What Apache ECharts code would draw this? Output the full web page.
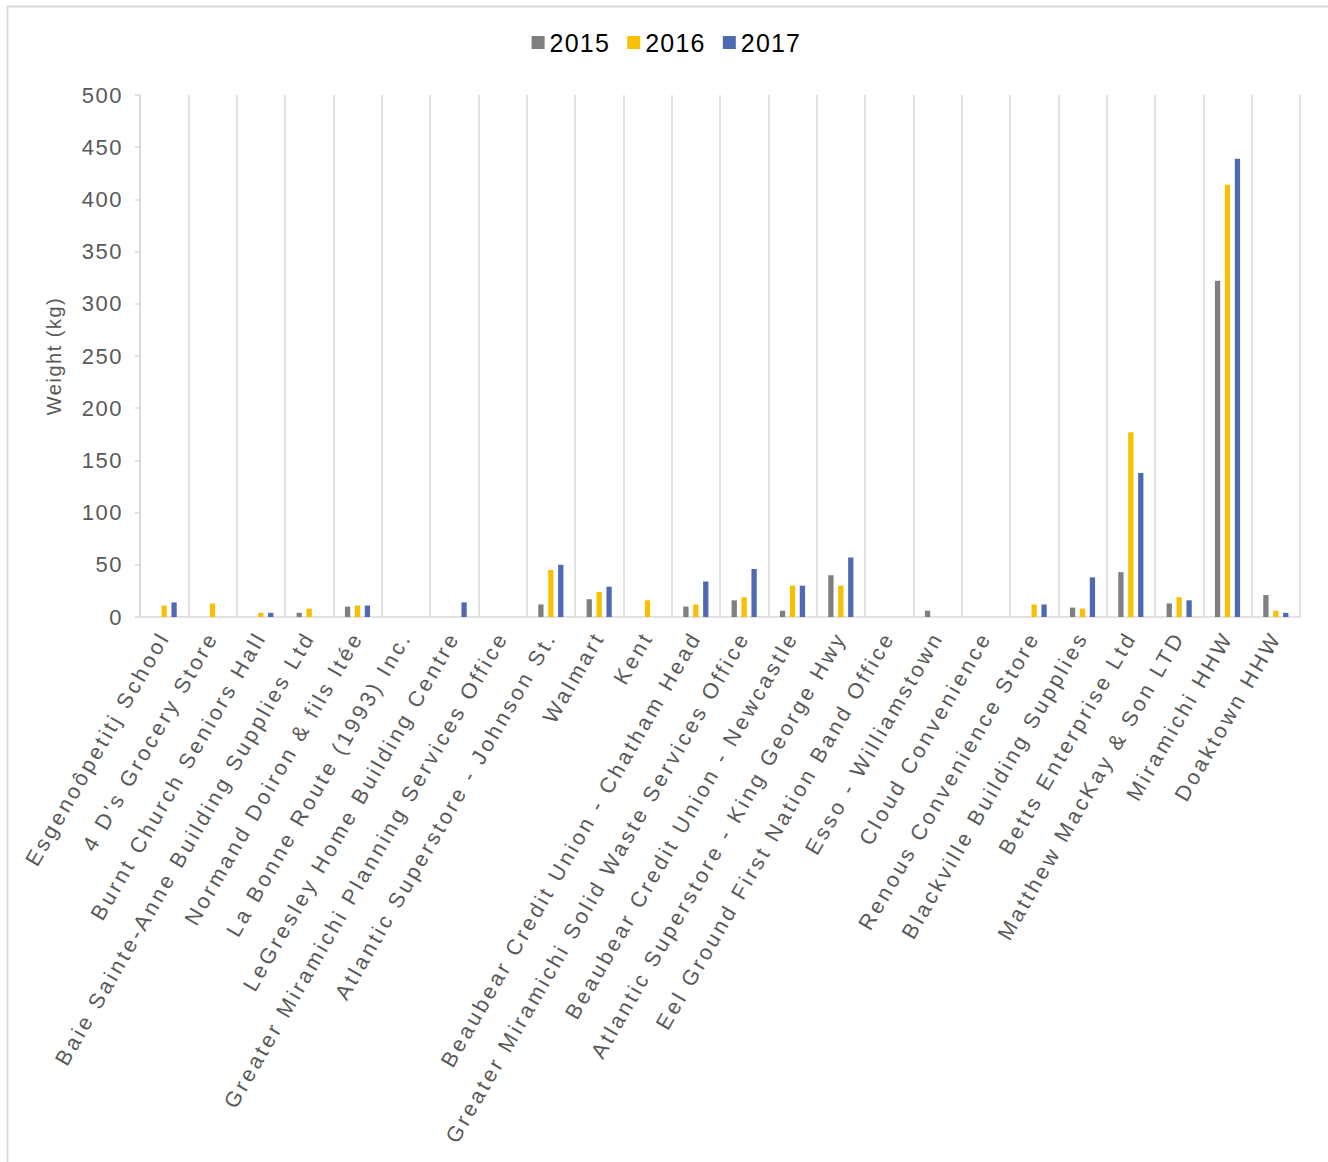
<!DOCTYPE html>
<html>
<head>
<meta charset="utf-8">
<script src="https://cdn.jsdelivr.net/npm/echarts@6/dist/echarts.min.js"></script>
<style>
html,body{margin:0;padding:0;background:#fff;}
#chart{width:1328px;height:1162px;}
</style>
</head>
<body>
<div id="chart"></div>
<script>
const categories = [
  "Esgenoôpetitj School",
  "4 D's Grocery Store",
  "Burnt Church Seniors Hall",
  "Baie Sainte-Anne Building Supplies Ltd",
  "Normand Doiron & fils ltée",
  "La Bonne Route (1993) Inc.",
  "LeGresley Home Building Centre",
  "Greater Miramichi Planning Services Office",
  "Atlantic Superstore - Johnson St.",
  "Walmart",
  "Kent",
  "Beaubear Credit Union - Chatham Head",
  "Greater Miramichi Solid Waste Services Office",
  "Beaubear Credit Union - Newcastle",
  "Atlantic Superstore - King George Hwy",
  "Eel Ground First Nation Band Office",
  "Esso - Williamstown",
  "Cloud Convenience",
  "Renous Convenience Store",
  "Blackville Building Supplies",
  "Betts Enterprise Ltd",
  "Matthew MacKay & Son LTD",
  "Miramichi HHW",
  "Doaktown HHW"
];
const seriesNames = ["2015", "2016", "2017"];
const values2015 = [null, null, null, 4, 10, null, null, null, 12, 17, null, 10, 16, 6, 40, null, 6, null, null, 9, 43, 13, 322, 21];
const values2016 = [11, 13, 4, 8, 11, null, null, null, 45, 24, 16, 12, 19, 30, 30, null, null, null, 12, 8, 177, 19, 414, 6];
const values2017 = [14, null, 4, null, 11, null, 14, null, 50, 29, null, 34, 46, 30, 57, null, null, null, 12, 38, 138, 16, 439, 4];
const yTicks = { min: 0, max: 500, interval: 50 };
const colors = ["#7f7f7f", "#f7c000", "#4e6ab3"];

const FONT = "'Liberation Sans', Arial, sans-serif";
const chart = echarts.init(document.getElementById('chart'), null, { renderer: 'svg', width: 1328, height: 1162 });

const allValues = [values2015, values2016, values2017];
const option = {
  animation: false,
  color: colors,
  graphic: [{
    type: 'rect', left: 5, top: 4, silent: true,
    shape: { width: 1400, height: 1250 },
    style: { fill: 'none', stroke: '#d9d9d9', lineWidth: 2 }
  }],
  legend: {
    top: 25, left: 'center',
    itemWidth: 13, itemHeight: 13, itemGap: 22,
    icon: 'rect',
    textStyle: { fontFamily: FONT, fontSize: 25, color: '#000' },
    data: seriesNames
  },
  grid: { left: 140, right: 28, top: 95, bottom: 545, containLabel: false },
  xAxis: {
    type: 'category',
    data: categories,
    axisLine: { lineStyle: { color: '#d9d9d9', width: 1.5 } },
    axisTick: { show: false },
    splitLine: { show: true, lineStyle: { color: '#d9d9d9', width: 1.5 } },
    axisLabel: {
      interval: 0, rotate: 60, margin: 16,
      fontFamily: FONT, fontSize: 21.6, color: '#595959'
    }
  },
  yAxis: {
    type: 'value',
    min: yTicks.min, max: yTicks.max, interval: yTicks.interval,
    name: 'Weight (kg)', nameLocation: 'middle', nameGap: 76, nameRotate: 90,
    nameTextStyle: { fontFamily: FONT, fontSize: 20, color: '#595959' },
    axisLine: { show: true, lineStyle: { color: '#d9d9d9', width: 1.5 } },
    axisTick: { show: true, length: 5, lineStyle: { color: '#d9d9d9', width: 1.5 } },
    splitLine: { show: false },
    axisLabel: { fontFamily: FONT, fontSize: 22, color: '#595959', margin: 17 }
  },
  series: seriesNames.map((n, i) => ({
    name: n, type: 'bar', data: allValues[i],
    barGap: '88%', barCategoryGap: '48%',
    itemStyle: { color: colors[i] }
  }))
};
chart.setOption(option);

const spacingBySize = { '21.6': '3.2px', '22': '1.5px', '25': '1.2px', '20': '1.5px' };
function applySpacing() {
  document.querySelectorAll('#chart text').forEach(t => {
    const s = (t.getAttribute('style') || '') + ' ' + (t.getAttribute('font-size') || '');
    const m = s.match(/([\d.]+)px/);
    if (m && spacingBySize[m[1]]) t.style.letterSpacing = spacingBySize[m[1]];
  });
}
applySpacing();
chart.on('finished', applySpacing);
</script>
</body>
</html>
